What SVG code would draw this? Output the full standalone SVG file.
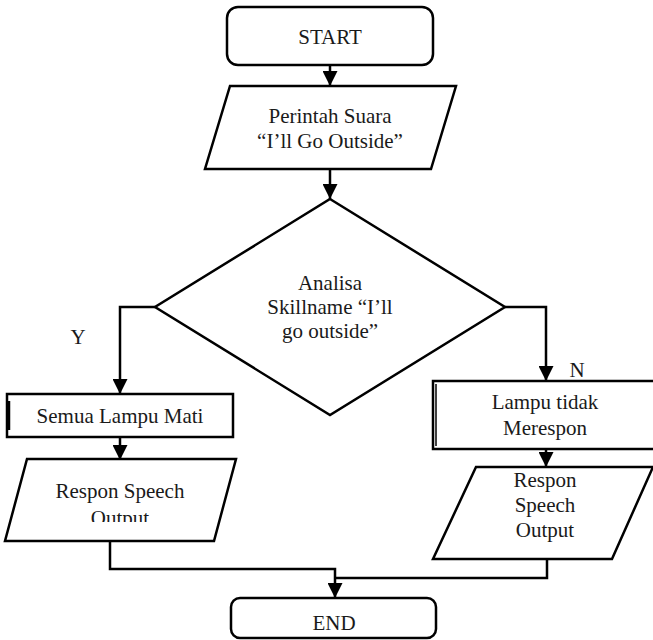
<svg xmlns="http://www.w3.org/2000/svg" width="653" height="640" viewBox="0 0 653 640">
  <defs>
    <style>
      .shape { fill: #ffffff; stroke: #000000; stroke-width: 2.5; }
      .edge { fill: none; stroke: #000000; stroke-width: 2.5; }
      .lbl { font-family: "Liberation Serif", "Times New Roman", serif; font-size: 21px; fill: #1a1a1a; text-anchor: middle; }
    </style>
    <marker id="arrow" markerUnits="userSpaceOnUse" markerWidth="15" markerHeight="15" refX="15" refY="7.5" orient="auto">
      <path d="M0,0 L15,7.5 L0,15 z" fill="#000000"/>
    </marker>
    <clipPath id="clip-out-left">
      <rect x="0" y="459" width="240" height="63"/>
    </clipPath>
  </defs>

  <rect width="653" height="640" fill="#ffffff"/>

  <g id="connectors">
    <line class="edge" x1="330" y1="65" x2="330" y2="86" marker-end="url(#arrow)"/>
    <line class="edge" x1="330" y1="169" x2="330" y2="199" marker-end="url(#arrow)"/>
    <polyline class="edge" points="155,307 120,307 120,394" marker-end="url(#arrow)"/>
    <polyline class="edge" points="505,307 546,307 546,381" marker-end="url(#arrow)"/>
    <line class="edge" x1="120" y1="437" x2="120" y2="460" marker-end="url(#arrow)"/>
    <line class="edge" x1="546" y1="449" x2="546" y2="467" marker-end="url(#arrow)"/>
    <polyline class="edge" points="110,541 110,569 335,569 335,598" marker-end="url(#arrow)"/>
    <polyline class="edge" points="547,559 547,578 335,578"/>
  </g>

  <g id="start">
    <rect class="shape" x="227" y="7" width="206" height="58" rx="11"/>
    <text class="lbl" x="330" y="44">START</text>
  </g>

  <g id="input-voice">
    <polygon class="shape" points="230,86 456,86 431,169 205,169"/>
    <text class="lbl" x="330" y="123">Perintah Suara</text>
    <text class="lbl" x="330" y="148">“I’ll Go Outside”</text>
  </g>

  <g id="decision">
    <polygon class="shape" points="330,199 505,307 330,415 155,307"/>
    <text class="lbl" x="330" y="290">Analisa</text>
    <text class="lbl" x="330" y="314">Skillname “I’ll</text>
    <text class="lbl" x="330" y="338">go outside”</text>
  </g>

  <g id="label-y">
    <text class="lbl" x="78" y="344">Y</text>
  </g>
  <g id="label-n">
    <text class="lbl" x="577" y="377">N</text>
  </g>

  <g id="lights-off">
    <rect class="shape" x="7" y="394" width="226" height="43"/>
    <line x1="9" y1="401" x2="9" y2="430" stroke="#000000" stroke-width="2.5"/>
    <text class="lbl" x="120" y="423">Semua Lampu Mati</text>
  </g>

  <g id="output-left">
    <polygon class="shape" points="27,459 236,459 214,541 5,541"/>
    <text class="lbl" x="120" y="498">Respon Speech</text>
    <text class="lbl" x="120" y="525" clip-path="url(#clip-out-left)">Output</text>
  </g>

  <g id="lights-no-response">
    <rect class="shape" x="433" y="381" width="230" height="68"/>
    <line x1="436" y1="384" x2="436" y2="446" stroke="#000000" stroke-width="1.5"/>
    <text class="lbl" x="545" y="409">Lampu tidak</text>
    <text class="lbl" x="545" y="435">Merespon</text>
  </g>

  <g id="output-right">
    <polygon class="shape" points="476,467 653,467 612,559 433,559"/>
    <text class="lbl" x="545" y="487">Respon</text>
    <text class="lbl" x="545" y="512">Speech</text>
    <text class="lbl" x="545" y="537">Output</text>
  </g>

  <g id="end">
    <rect class="shape" x="231" y="598" width="205" height="40" rx="9"/>
    <text class="lbl" x="334" y="630">END</text>
  </g>
</svg>
